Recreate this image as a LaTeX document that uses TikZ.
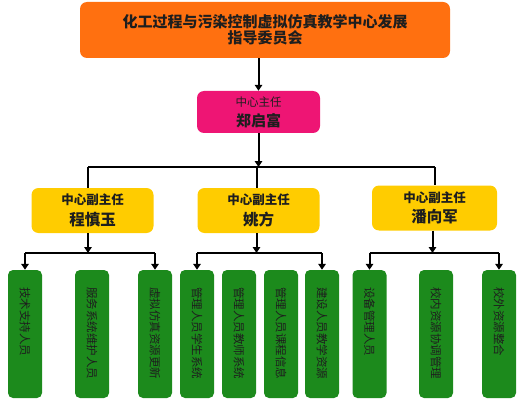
\documentclass[tikz,border=0pt]{standalone}
\usepackage{fontspec}
\newfontfamily\cjk{Noto Sans CJK SC}
\usetikzlibrary{arrows.meta}
\definecolor{orangebox}{HTML}{FF7010}
\definecolor{pinkbox}{HTML}{EE1574}
\definecolor{yellowbox}{HTML}{FFCC00}
\definecolor{greenbox}{HTML}{1C8A1C}
\definecolor{txt}{HTML}{1E1E1E}
\tikzset{
  box/.style={rounded corners=7pt, inner sep=0pt, align=center, text=txt, font=\cjk},
  topbox/.style={box, fill=orangebox, minimum width=370pt, minimum height=56pt},
  pinkb/.style={box, fill=pinkbox, minimum width=123pt, minimum height=42pt},
  yellowb/.style={box, fill=yellowbox, minimum width=122pt, minimum height=45pt},
  greenb/.style={box, rounded corners=5pt, fill=greenbox, minimum width=34pt, minimum height=128pt},
  gtext/.style={rotate=-90, anchor=west, inner sep=0pt, text=txt, font=\cjk\fontsize{11.5pt}{12pt}\selectfont},
  conn/.style={line width=2pt, draw=black},
  arr/.style={conn, -{Triangle[length=6pt,width=7.5pt]}},
}
\begin{document}
\begin{tikzpicture}[x=1pt,y=-1pt]
\useasboundingbox (0,0) rectangle (522,401);
% top
\node[topbox] (top) at (265,30) {\fontsize{15pt}{20pt}\selectfont\bfseries 化工过程与污染控制虚拟仿真教学中心发展\\[1pt] \fontsize{15pt}{20pt}\selectfont\bfseries 指导委员会};
\node[pinkb] (dir) at (258.5,112) {\fontsize{11.5pt}{14pt}\selectfont 中心主任\\[5pt] \fontsize{15pt}{16pt}\selectfont\bfseries 郑启富};
\node[yellowb] (y1) at (92.5,210.5) {\fontsize{12.5pt}{14pt}\selectfont\bfseries 中心副主任\\[5pt] \fontsize{15.5pt}{16pt}\selectfont\bfseries 程慎玉};
\node[yellowb] (y2) at (258.5,210.5) {\fontsize{12.5pt}{14pt}\selectfont\bfseries 中心副主任\\[5pt] \fontsize{15.5pt}{16pt}\selectfont\bfseries 姚方};
\node[yellowb, minimum width=125pt] (y3) at (434.5,208) {\fontsize{12.5pt}{14pt}\selectfont\bfseries 中心副主任\\[5pt] \fontsize{15.5pt}{16pt}\selectfont\bfseries 潘向军};
% green boxes
\foreach \n/\x in {1/25,2/92,3/155,4/197,5/239,6/281,7/322,8/369.5,9/436,10/499}{
  \node[greenb] (g\n) at (\x,334) {};
}
\node[gtext] (t1) at ([yshift=-17pt]g1.north) {技术支持人员};
\node[gtext] (t2) at ([yshift=-17pt]g2.north) {服务系统维护人员};
\node[gtext] (t3) at ([yshift=-17pt]g3.north) {虚拟仿真资源更新};
\node[gtext] (t4) at ([yshift=-17pt]g4.north) {管理人员学生系统};
\node[gtext] (t5) at ([yshift=-17pt]g5.north) {管理人员教师系统};
\node[gtext] (t6) at ([yshift=-17pt]g6.north) {管理人员课程信息};
\node[gtext] (t7) at ([yshift=-17pt]g7.north) {建设人员教学资源};
\node[gtext] (t8) at ([yshift=-17pt]g8.north) {设备管理人员};
\node[gtext] (t9) at ([yshift=-17pt]g9.north) {校内资源协调管理};
\node[gtext] (t10) at ([yshift=-17pt]g10.north) {校外资源整合};
% connectors
\coordinate (bar) at (258,167);
\coordinate (b1) at (88,253);
\coordinate (b2) at (258,253);
\coordinate (b3) at (434,253);
\draw[arr] (top.south -| dir.north) -- (dir.north);
\draw[arr] (dir.south) -- (dir.south |- bar);
\draw[conn] ([xshift=-4.5pt]y1.north |- bar) -- (y3.north |- bar);
\draw[conn] ([xshift=-4.5pt]y1.north |- bar) -- ([xshift=-4.5pt]y1.north);
\draw[conn] ([xshift=-2pt]y2.north |- bar) -- ([xshift=-2pt]y2.north);
\draw[conn] (y3.north |- bar) -- (y3.north);
\draw[arr] ([xshift=-4.5pt]y1.south) -- ([xshift=-4.5pt]y1.south |- b1);
\draw[arr] ([xshift=-2pt]y2.south) -- ([xshift=-2pt]y2.south |- b2);
\draw[arr] ([xshift=-2pt]y3.south) -- ([xshift=-2pt]y3.south |- b3);
\draw[conn] (g1.north |- b1) -- (g3.north |- b1);
\draw[conn] (g4.north |- b2) -- (g7.north |- b2);
\draw[conn] (g8.north |- b3) -- (g10.north |- b3);
\draw[arr] (g1.north |- b1) -- (g1.north);
\draw[arr] (g3.north |- b1) -- (g3.north);
\draw[arr] (g4.north |- b2) -- (g4.north);
\draw[arr] (g7.north |- b2) -- (g7.north);
\draw[arr] (g8.north |- b3) -- (g8.north);
\draw[arr] (g10.north |- b3) -- (g10.north);
\end{tikzpicture}
\end{document}
